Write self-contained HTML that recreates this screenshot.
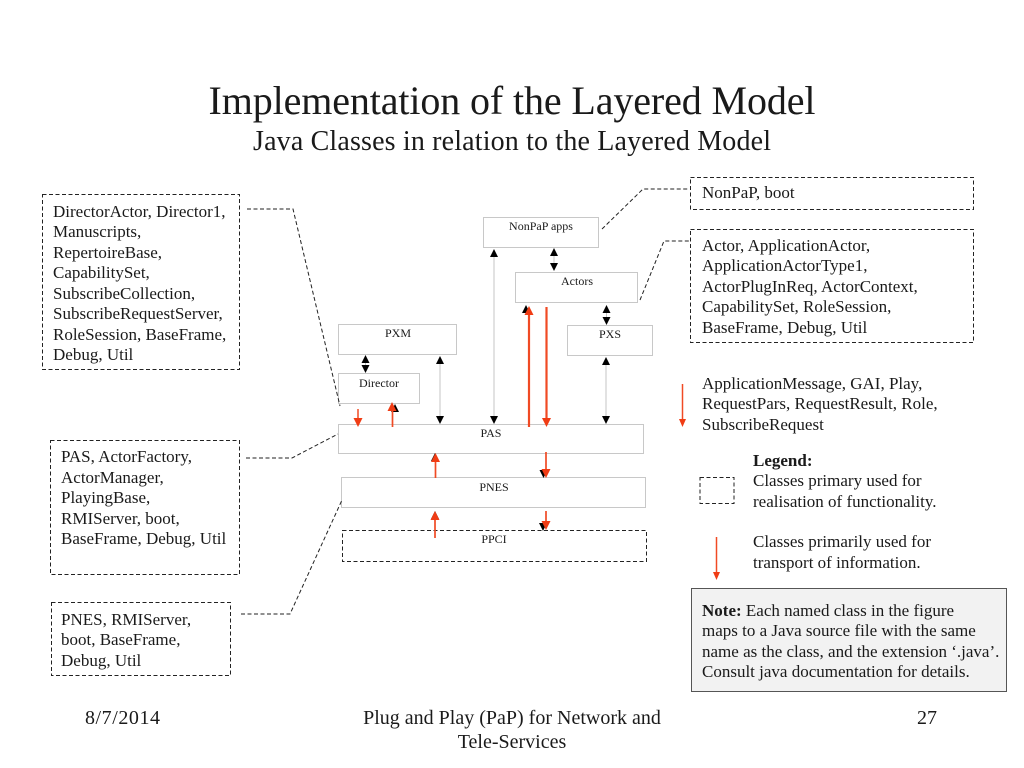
<!DOCTYPE html>
<html><head><meta charset="utf-8"><style>
html,body{margin:0;padding:0;background:#fff}
svg{display:block}
text{font-family:"Liberation Serif",serif;fill:#1a1a1a}
.b{font-size:17px}
.s{font-size:12px}
.f{font-size:20px}
</style></head><body>
<svg width="1024" height="768" viewBox="0 0 1024 768" xmlns="http://www.w3.org/2000/svg">
<rect width="1024" height="768" fill="#fff"/>
<text x="512" y="114" text-anchor="middle" font-size="40" textLength="607">Implementation of the Layered Model</text>
<text x="512" y="150" text-anchor="middle" font-size="28" textLength="518">Java Classes in relation to the Layered Model</text>

<g fill="#fff" stroke="#c8c8c8" stroke-width="1">
<rect x="483.5" y="217.5" width="115" height="30"/>
<rect x="515.5" y="272.5" width="122" height="30"/>
<rect x="338.5" y="324.5" width="118" height="30"/>
<rect x="338.5" y="373.5" width="81" height="30"/>
<rect x="567.5" y="325.5" width="85" height="30"/>
<rect x="338.5" y="424.5" width="305" height="29"/>
<rect x="341.5" y="477.5" width="304" height="30"/>
</g>
<g fill="none" stroke="#222" stroke-width="1" stroke-dasharray="4 2.5">
<rect x="342.5" y="530.5" width="304" height="31"/>
<rect x="690.5" y="177.5" width="283" height="32"/>
<rect x="690.5" y="229.5" width="283" height="113"/>
<rect x="42.5" y="194.5" width="197" height="175"/>
<rect x="50.5" y="440.5" width="189" height="134"/>
<rect x="51.5" y="602.5" width="179" height="73"/>
<rect x="700" y="477.5" width="34" height="26"/>
<polyline points="602,229 643,189 688,189"/>
<polyline points="640,300 664,241 690,241"/>
<polyline points="247,209 293,209 340,406"/>
<polyline points="246,458 292,458 338,434"/>
<polyline points="241,614 290,614 342,500"/>
</g>

<g stroke="#c4c4c4" stroke-width="1">
<line x1="494" y1="252" x2="494" y2="420"/>
<line x1="440" y1="360" x2="440" y2="420"/>
<line x1="606" y1="360" x2="606" y2="420"/>
<line x1="554" y1="252" x2="554" y2="268"/>
<line x1="606.5" y1="308" x2="606.5" y2="322"/>
<line x1="365.5" y1="358" x2="365.5" y2="370"/>
</g>
<g fill="#000">
<polygon points="494,249 490,257 498,257"/><polygon points="494,424 490,416 498,416"/>
<polygon points="440,356 436,364 444,364"/><polygon points="440,424 436,416 444,416"/>
<polygon points="606,357 602,365 610,365"/><polygon points="606,424 602,416 610,416"/>
<polygon points="554,248 550,256 558,256"/><polygon points="554,271 550,263 558,263"/>
<polygon points="606.5,305 602.5,313 610.5,313"/><polygon points="606.5,325 602.5,317 610.5,317"/>
<polygon points="365.5,355 361.5,363 369.5,363"/><polygon points="365.5,373 361.5,365 369.5,365"/>
<polygon points="358,426 354,418 362,418"/>
<polygon points="395,404 391,412 399,412"/>
<polygon points="526,305 522,313 530,313"/>
<polygon points="435,453 431,461 439,461"/>
<polygon points="543.5,478 539.5,470 547.5,470"/>
<polygon points="435,511 431,519 439,519"/>
<polygon points="543,531 539,523 547,523"/>
</g>
<g stroke="#f04a24" fill="none">
<line x1="358" y1="409" x2="358" y2="420" stroke-width="1.5"/>
<line x1="392.5" y1="427" x2="392.5" y2="408" stroke-width="1.7"/>
<line x1="529" y1="427" x2="529" y2="312" stroke-width="2.2"/>
<line x1="546.5" y1="307" x2="546.5" y2="420" stroke-width="2.2"/>
<line x1="435.5" y1="478" x2="435.5" y2="460" stroke-width="1.7"/>
<line x1="546" y1="452" x2="546" y2="472" stroke-width="1.7"/>
<line x1="435" y1="538" x2="435" y2="518" stroke-width="1.7"/>
<line x1="546" y1="511" x2="546" y2="524" stroke-width="1.7"/>
<line x1="682.5" y1="384" x2="682.5" y2="421" stroke-width="1.5"/>
<line x1="716.5" y1="537" x2="716.5" y2="574" stroke-width="1.5"/>
</g>
<g fill="#f03c14">
<polygon points="358,427 353.5,418 362.5,418"/>
<polygon points="392,402 387.5,411 396.5,411"/>
<polygon points="529,306 524.5,315 533.5,315"/>
<polygon points="546.5,427 542,418 551,418"/>
<polygon points="435.5,453 431,462 440,462"/>
<polygon points="546,478 541.5,469 550.5,469"/>
<polygon points="435,511 430.5,520 439.5,520"/>
<polygon points="546,530 541.5,521 550.5,521"/>
<polygon points="682.5,427 679,419 686,419"/>
<polygon points="716.5,580 713,572 720,572"/>
</g>

<g text-anchor="middle">
<text class="s" x="541" y="230">NonPaP apps</text>
<text class="s" x="577" y="285">Actors</text>
<text class="s" x="398" y="337">PXM</text>
<text class="s" x="379" y="387">Director</text>
<text class="s" x="610" y="338">PXS</text>
<text class="s" x="491" y="437">PAS</text>
<text class="s" x="494" y="491">PNES</text>
<text class="s" x="494" y="543">PPCI</text>
</g>

<g>
<text class="b" x="53" y="217">DirectorActor, Director1,</text>
<text class="b" x="53" y="237">Manuscripts,</text>
<text class="b" x="53" y="258">RepertoireBase,</text>
<text class="b" x="53" y="278">CapabilitySet,</text>
<text class="b" x="53" y="299">SubscribeCollection,</text>
<text class="b" x="53" y="319">SubscribeRequestServer,</text>
<text class="b" x="53" y="340">RoleSession, BaseFrame,</text>
<text class="b" x="53" y="360">Debug, Util</text>

<text class="b" x="61" y="462">PAS, ActorFactory,</text>
<text class="b" x="61" y="483">ActorManager,</text>
<text class="b" x="61" y="503">PlayingBase,</text>
<text class="b" x="61" y="524">RMIServer, boot,</text>
<text class="b" x="61" y="544">BaseFrame, Debug, Util</text>

<text class="b" x="61" y="625">PNES, RMIServer,</text>
<text class="b" x="61" y="645">boot, BaseFrame,</text>
<text class="b" x="61" y="666">Debug, Util</text>

<text class="b" x="702" y="198">NonPaP, boot</text>

<text class="b" x="702" y="251">Actor, ApplicationActor,</text>
<text class="b" x="702" y="271">ApplicationActorType1,</text>
<text class="b" x="702" y="292">ActorPlugInReq, ActorContext,</text>
<text class="b" x="702" y="312">CapabilitySet, RoleSession,</text>
<text class="b" x="702" y="333">BaseFrame, Debug, Util</text>

<text class="b" x="702" y="389">ApplicationMessage, GAI, Play,</text>
<text class="b" x="702" y="409">RequestPars, RequestResult, Role,</text>
<text class="b" x="702" y="430">SubscribeRequest</text>

<text class="b" x="753" y="466" font-weight="bold">Legend:</text>
<text class="b" x="753" y="486">Classes primary used for</text>
<text class="b" x="753" y="507">realisation of functionality.</text>
<text class="b" x="753" y="547">Classes primarily used for</text>
<text class="b" x="753" y="568">transport of information.</text>
</g>

<rect x="691.5" y="588.5" width="315" height="103" fill="#f2f2f2" stroke="#555" stroke-width="1"/>
<text class="b" x="702" y="616"><tspan font-weight="bold">Note:</tspan> Each named class in the figure</text>
<text class="b" x="702" y="636">maps to a Java source file with the same</text>
<text class="b" x="702" y="657">name as the class, and the extension ‘.java’.</text>
<text class="b" x="702" y="677">Consult java documentation for details.</text>

<text class="f" x="85" y="724" textLength="75">8/7/2014</text>
<text class="f" x="512" y="724" text-anchor="middle">Plug and Play (PaP) for Network and</text>
<text class="f" x="512" y="748" text-anchor="middle">Tele-Services</text>
<text class="f" x="917" y="724">27</text>
</svg>
</body></html>
